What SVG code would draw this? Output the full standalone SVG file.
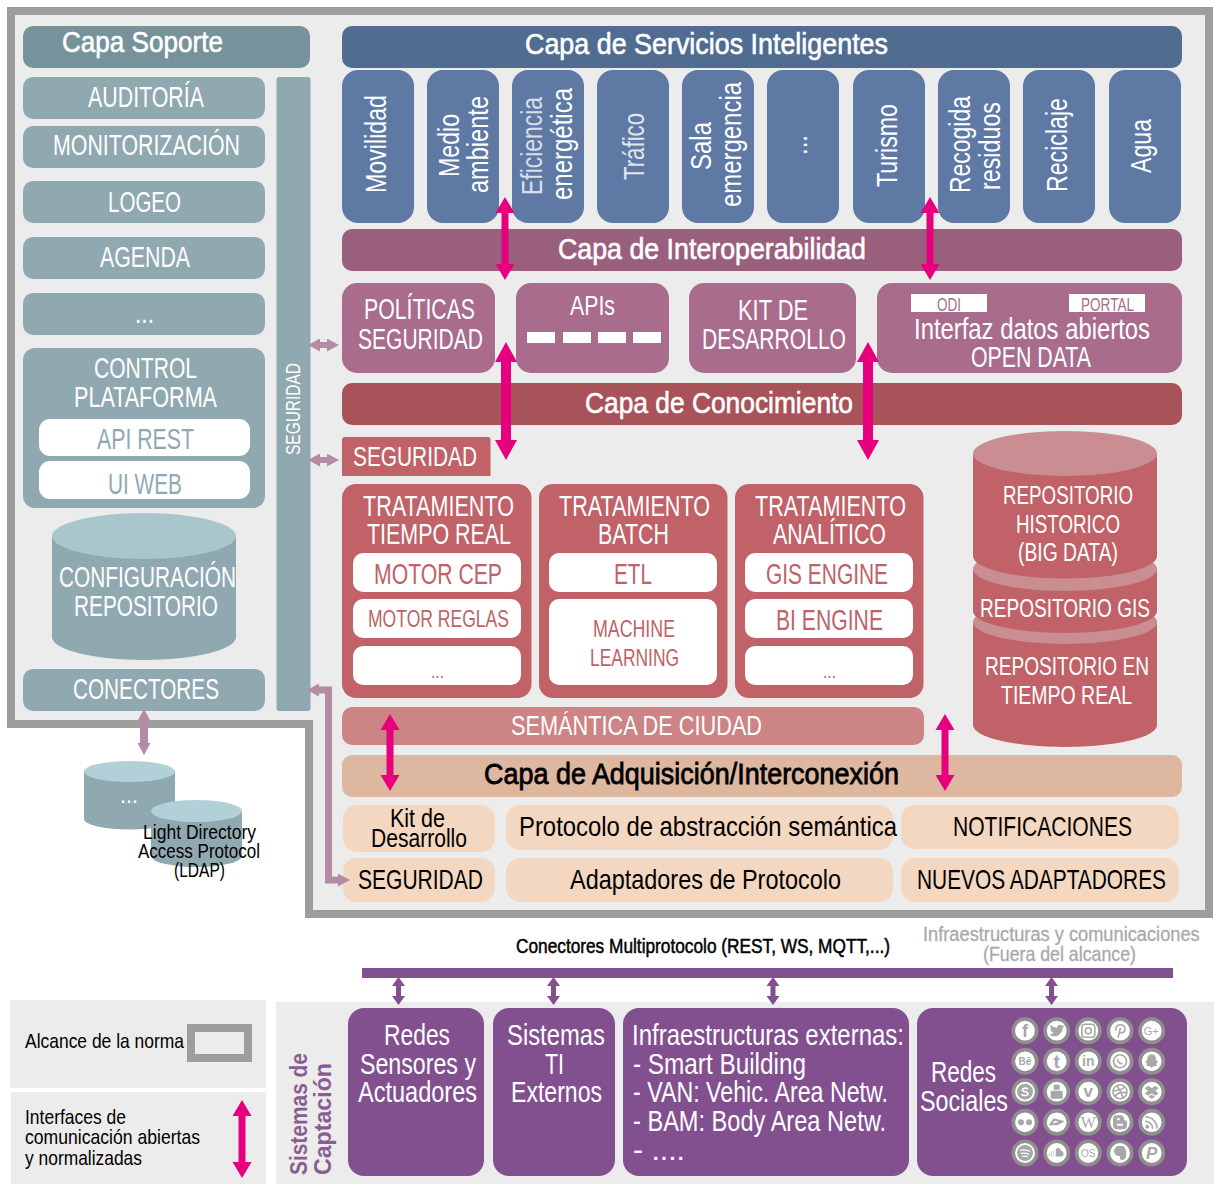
<svg xmlns="http://www.w3.org/2000/svg" width="1214" height="1184" viewBox="0 0 1214 1184">
<style>
text{font-family:"Liberation Sans",Arial,sans-serif;white-space:pre}
.w{fill:#fff}.k{fill:#000}
.s29{font-size:29px}.s28{font-size:28px}.s26{font-size:26px}.s24{font-size:24px}.s21{font-size:21px}.s20{font-size:20px}.s18{font-size:18px}
.hd{font-size:30px;stroke-width:.6px}
.hw{stroke:#fff}.hk{stroke:#000;stroke-width:.8px}
.sup{fill:#90a9b0}.supd{fill:#76929a}.top{fill:#b2d0d7}
.blue{fill:#5d79a4}.mau{fill:#a96c8c}.red{fill:#c06267}.pea{fill:#f4d7c1}.pur{fill:#83508f}.pan{fill:#ececec}
.rl{fill:#c06267}.wh{fill:#fff}.rt{fill:#c98d92}
.ring{fill:#fff;stroke:#8f8f8f;stroke-width:3.6px}
.g{fill:#a8a8a8}.gl{fill:none;stroke:#a8a8a8;stroke-width:1.6px}
.ic{fill:#a8a8a8;font-weight:bold;text-anchor:middle}
.in{font-weight:normal}
.lp{stroke:#e6007e;fill:none}.lm{stroke:#b58aa5;fill:none}.lv{stroke:#83508f;fill:none}
</style>
<defs>
<marker id="ps" markerUnits="userSpaceOnUse" markerWidth="16" markerHeight="20" refX="1" refY="10" orient="auto-start-reverse"><path d="M0 .5L16 10L0 19.5Z" fill="#e6007e"/></marker>
<marker id="pl" markerUnits="userSpaceOnUse" markerWidth="20" markerHeight="23" refX="1" refY="11.5" orient="auto-start-reverse"><path d="M0 .5L20 11.5L0 22.5Z" fill="#e6007e"/></marker>
<marker id="ms" markerUnits="userSpaceOnUse" markerWidth="12" markerHeight="13" refX="1" refY="6.5" orient="auto-start-reverse"><path d="M0 0L12 6.5L0 13Z" fill="#b58aa5"/></marker>
<marker id="vs" markerUnits="userSpaceOnUse" markerWidth="9" markerHeight="13" refX="1" refY="6.5" orient="auto-start-reverse"><path d="M0 0L9 6.5L0 13Z" fill="#83508f"/></marker>
</defs>

<g id="scope"><path d="M11 11H1209V914H309V724H11Z" fill="#ececec" stroke="#9d9d9c" stroke-width="8"/></g>

<g id="capa-soporte"><rect x="23" y="26" width="287" height="42" rx="10" class="supd"/><text x="62" y="52" textLength="161" lengthAdjust="spacingAndGlyphs" class="hd hw w">Capa Soporte</text></g>
<g id="auditoria"><rect x="23" y="77" width="242" height="42" rx="10" class="sup"/><text x="88" y="107" textLength="116" lengthAdjust="spacingAndGlyphs" class="s29 w">AUDITORÍA</text></g>
<g id="monitorizacion"><rect x="23" y="126" width="242" height="42" rx="10" class="sup"/><text x="53" y="155" textLength="187" lengthAdjust="spacingAndGlyphs" class="s29 w">MONITORIZACIÓN</text></g>
<g id="logeo"><rect x="23" y="181" width="242" height="42" rx="10" class="sup"/><text x="108" y="212" textLength="73" lengthAdjust="spacingAndGlyphs" class="s29 w">LOGEO</text></g>
<g id="agenda"><rect x="23" y="237" width="242" height="42" rx="10" class="sup"/><text x="100" y="267" textLength="90" lengthAdjust="spacingAndGlyphs" class="s29 w">AGENDA</text></g>
<g id="soporte-mas"><rect x="23" y="293" width="242" height="42" rx="10" class="sup"/><text x="135" y="323" textLength="19" lengthAdjust="spacingAndGlyphs" class="s29 w">...</text></g>
<g id="control"><rect x="23" y="348" width="242" height="160" rx="12" class="sup"/><text x="94" y="378" textLength="103" lengthAdjust="spacingAndGlyphs" class="s29 w">CONTROL</text><text x="74" y="407" textLength="143" lengthAdjust="spacingAndGlyphs" class="s29 w">PLATAFORMA</text>
<rect x="39" y="419" width="211" height="37" rx="11" class="wh"/><text x="97" y="449" textLength="97" lengthAdjust="spacingAndGlyphs" class="s29 sup">API REST</text>
<rect x="39" y="461" width="211" height="38" rx="11" class="wh"/><text x="108" y="494" textLength="74" lengthAdjust="spacingAndGlyphs" class="s29 sup">UI WEB</text></g>
<g id="configuracion"><path d="M52 536V637A92 23 0 0 0 236 637V536Z" class="sup"/><ellipse cx="144" cy="536" rx="92" ry="23" fill="#a9c6cd"/><text x="59" y="587" textLength="177" lengthAdjust="spacingAndGlyphs" class="s29 w">CONFIGURACIÓN</text><text x="74" y="616" textLength="144" lengthAdjust="spacingAndGlyphs" class="s29 w">REPOSITORIO</text></g>
<g id="conectores"><rect x="23" y="669" width="242" height="42" rx="10" class="sup"/><text x="73" y="699" textLength="146" lengthAdjust="spacingAndGlyphs" class="s29 w">CONECTORES</text></g>
<g id="seguridad-v"><rect x="276.500" y="77" width="34" height="634" rx="3" class="sup"/><text transform="translate(300 455) rotate(-90)" textLength="92" lengthAdjust="spacingAndGlyphs" class="s21 w">SEGURIDAD</text></g>

<g id="servicios"><rect x="342" y="26" width="840" height="42" rx="10" fill="#516c91"/><text x="525" y="54" textLength="363" lengthAdjust="spacingAndGlyphs" class="hd hw w">Capa de Servicios Inteligentes</text></g>
<g id="movilidad"><rect x="342" y="70" width="72" height="153" rx="16" class="blue"/><text transform="translate(386 193) rotate(-90)" textLength="98" lengthAdjust="spacingAndGlyphs" class="s29 w">Movilidad</text></g>
<g id="medio"><rect x="427" y="70" width="72" height="153" rx="16" class="blue"/><text transform="translate(459 177) rotate(-90)" textLength="63" lengthAdjust="spacingAndGlyphs" class="s29 w">Medio</text><text transform="translate(488 193) rotate(-90)" textLength="97" lengthAdjust="spacingAndGlyphs" class="s29 w">ambiente</text></g>
<g id="eficiencia"><rect x="512" y="70" width="72" height="153" rx="16" class="blue"/><text transform="translate(542 195) rotate(-90)" textLength="98" lengthAdjust="spacingAndGlyphs" class="s29" fill="#d8dfe9">Eficiencia</text><text transform="translate(572 200) rotate(-90)" textLength="112" lengthAdjust="spacingAndGlyphs" class="s29 w">energética</text></g>
<g id="trafico"><rect x="597" y="70" width="72" height="153" rx="16" class="blue"/><text transform="translate(644 180) rotate(-90)" textLength="67" lengthAdjust="spacingAndGlyphs" class="s29" fill="#e0e5ed">Tráfico</text></g>
<g id="sala"><rect x="682" y="70" width="72" height="153" rx="16" class="blue"/><text transform="translate(711 170) rotate(-90)" textLength="48" lengthAdjust="spacingAndGlyphs" class="s29 w">Sala</text><text transform="translate(741 207) rotate(-90)" textLength="125" lengthAdjust="spacingAndGlyphs" class="s29 w">emergencia</text></g>
<g id="serv-mas"><rect x="767" y="70" width="72" height="153" rx="16" class="blue"/><text transform="translate(807 155) rotate(-90)" textLength="20" lengthAdjust="spacingAndGlyphs" class="s29 w">...</text></g>
<g id="turismo"><rect x="853" y="70" width="72" height="153" rx="16" class="blue"/><text transform="translate(897 187) rotate(-90)" textLength="83" lengthAdjust="spacingAndGlyphs" class="s29 w">Turismo</text></g>
<g id="recogida"><rect x="938" y="70" width="72" height="153" rx="16" class="blue"/><text transform="translate(970 193) rotate(-90)" textLength="97" lengthAdjust="spacingAndGlyphs" class="s29 w">Recogida</text><text transform="translate(1000 190) rotate(-90)" textLength="88" lengthAdjust="spacingAndGlyphs" class="s29 w">residuos</text></g>
<g id="reciclaje"><rect x="1023" y="70" width="72" height="153" rx="16" class="blue"/><text transform="translate(1067 192) rotate(-90)" textLength="94" lengthAdjust="spacingAndGlyphs" class="s29 w">Reciclaje</text></g>
<g id="agua"><rect x="1109" y="70" width="72" height="153" rx="16" class="blue"/><text transform="translate(1151 173) rotate(-90)" textLength="54" lengthAdjust="spacingAndGlyphs" class="s29 w">Agua</text></g>

<g id="interoperabilidad"><rect x="342" y="229" width="840" height="42" rx="10" fill="#9a5f7d"/><text x="558" y="259" textLength="308" lengthAdjust="spacingAndGlyphs" class="hd hw w">Capa de Interoperabilidad</text></g>
<g id="politicas"><rect x="342" y="283" width="153" height="90" rx="15" class="mau"/><text x="364" y="319" textLength="111" lengthAdjust="spacingAndGlyphs" class="s29 w">POLÍTICAS</text><text x="358" y="349" textLength="125" lengthAdjust="spacingAndGlyphs" class="s29 w">SEGURIDAD</text></g>
<g id="apis"><rect x="516" y="283" width="153" height="90" rx="15" class="mau"/><text x="570" y="315" textLength="45" lengthAdjust="spacingAndGlyphs" class="s28 w">APIs</text><rect x="527" y="332" width="28" height="11" class="wh"/><rect x="563" y="332" width="28" height="11" class="wh"/><rect x="598" y="332" width="28" height="11" class="wh"/><rect x="633" y="332" width="28" height="11" class="wh"/></g>
<g id="kit"><rect x="689" y="283" width="167" height="90" rx="15" class="mau"/><text x="738" y="320" textLength="70" lengthAdjust="spacingAndGlyphs" class="s29 w">KIT DE</text><text x="702" y="349" textLength="144" lengthAdjust="spacingAndGlyphs" class="s29 w">DESARROLLO</text></g>
<g id="opendata"><rect x="877" y="283" width="305" height="90" rx="15" class="mau"/><rect x="911" y="294" width="76" height="18" class="wh"/><text x="937" y="311" textLength="24" lengthAdjust="spacingAndGlyphs" class="s18 mau">ODI</text><rect x="1069" y="294" width="76" height="18" class="wh"/><text x="1081" y="311" textLength="53" lengthAdjust="spacingAndGlyphs" class="s18 mau">PORTAL</text><text x="914" y="339" textLength="236" lengthAdjust="spacingAndGlyphs" class="s29 w">Interfaz datos abiertos</text><text x="971" y="367" textLength="120" lengthAdjust="spacingAndGlyphs" class="s29 w">OPEN DATA</text></g>

<g id="conocimiento"><rect x="342" y="383" width="840" height="42" rx="10" fill="#a85259"/><text x="585" y="413" textLength="268" lengthAdjust="spacingAndGlyphs" class="hd hw w">Capa de Conocimiento</text></g>
<g id="seguridad-c"><path d="M345 437H488Q490.500 437 490.500 440V476H342V440Q342 437 345 437Z" class="rl"/><text x="353" y="466" textLength="124" lengthAdjust="spacingAndGlyphs" class="s28 w">SEGURIDAD</text></g>

<g id="tiempo-real"><rect x="342" y="484" width="189.500" height="214" rx="14" class="red"/><text x="363" y="516" textLength="151" lengthAdjust="spacingAndGlyphs" class="s29 w">TRATAMIENTO</text><text x="367" y="544" textLength="144" lengthAdjust="spacingAndGlyphs" class="s29 w">TIEMPO REAL</text>
<rect x="353" y="553" width="168" height="39" rx="10" class="wh"/><text x="374" y="584" textLength="128" lengthAdjust="spacingAndGlyphs" class="s29 red">MOTOR CEP</text>
<rect x="353" y="599" width="168" height="39" rx="10" class="wh"/><text x="368" y="627" textLength="141" lengthAdjust="spacingAndGlyphs" class="s24 red">MOTOR REGLAS</text>
<rect x="353" y="646" width="168" height="39" rx="10" class="wh"/><text x="431" y="678" textLength="13" lengthAdjust="spacingAndGlyphs" class="s20 red">...</text></g>
<g id="batch"><rect x="539" y="484" width="188.500" height="214" rx="14" class="red"/><text x="559" y="516" textLength="151" lengthAdjust="spacingAndGlyphs" class="s29 w">TRATAMIENTO</text><text x="598" y="544" textLength="71" lengthAdjust="spacingAndGlyphs" class="s29 w">BATCH</text>
<rect x="549" y="553" width="168" height="39" rx="10" class="wh"/><text x="614" y="584" textLength="38" lengthAdjust="spacingAndGlyphs" class="s29 red">ETL</text>
<rect x="549" y="599" width="168" height="86" rx="10" class="wh"/><text x="593" y="637" textLength="82" lengthAdjust="spacingAndGlyphs" class="s24 red">MACHINE</text><text x="590" y="666" textLength="89" lengthAdjust="spacingAndGlyphs" class="s24 red">LEARNING</text></g>
<g id="analitico"><rect x="735" y="484" width="188.500" height="214" rx="14" class="red"/><text x="755" y="516" textLength="151" lengthAdjust="spacingAndGlyphs" class="s29 w">TRATAMIENTO</text><text x="773" y="544" textLength="113" lengthAdjust="spacingAndGlyphs" class="s29 w">ANALÍTICO</text>
<rect x="745" y="553" width="168" height="39" rx="10" class="wh"/><text x="766" y="584" textLength="122" lengthAdjust="spacingAndGlyphs" class="s29 red">GIS ENGINE</text>
<rect x="745" y="599" width="168" height="39" rx="10" class="wh"/><text x="776" y="630" textLength="107" lengthAdjust="spacingAndGlyphs" class="s29 red">BI ENGINE</text>
<rect x="745" y="646" width="168" height="39" rx="10" class="wh"/><text x="823" y="678" textLength="13" lengthAdjust="spacingAndGlyphs" class="s20 red">...</text></g>

<g id="repo-tr"><path d="M973 622V725A92 22 0 0 0 1157 725V622Z" class="rl"/><ellipse cx="1065" cy="622" rx="92" ry="22" class="rt"/><text x="985" y="675" textLength="164" lengthAdjust="spacingAndGlyphs" class="s26 w">REPOSITORIO EN</text><text x="1001" y="704" textLength="131" lengthAdjust="spacingAndGlyphs" class="s26 w">TIEMPO REAL</text></g>
<g id="repo-gis"><path d="M973 569V611A92 22 0 0 0 1157 611V569Z" class="rl"/><ellipse cx="1065" cy="569" rx="92" ry="22" class="rt"/><text x="980" y="617" textLength="170" lengthAdjust="spacingAndGlyphs" class="s26 w">REPOSITORIO GIS</text></g>
<g id="repo-hist"><path d="M973 453.500V556A92 22.500 0 0 0 1157 556V453.500Z" class="rl"/><ellipse cx="1065" cy="453.500" rx="92" ry="22.500" class="rt"/><text x="1003" y="504" textLength="130" lengthAdjust="spacingAndGlyphs" class="s26 w">REPOSITORIO</text><text x="1016" y="533" textLength="104" lengthAdjust="spacingAndGlyphs" class="s26 w">HISTORICO</text><text x="1018" y="561" textLength="100" lengthAdjust="spacingAndGlyphs" class="s26 w">(BIG DATA)</text></g>

<g id="semantica"><rect x="342" y="707" width="582" height="38" rx="10" fill="#cc8484"/><text x="511" y="735" textLength="251" lengthAdjust="spacingAndGlyphs" class="s28 w">SEMÁNTICA DE CIUDAD</text></g>
<g id="adquisicion"><rect x="342" y="755" width="840" height="42" rx="10" fill="#ddb79f"/><text x="484" y="784" textLength="415" lengthAdjust="spacingAndGlyphs" class="hd hk k">Capa de Adquisición/Interconexión</text></g>
<g id="kit-des"><rect x="343" y="805" width="152" height="47" rx="14" class="pea"/><text x="390" y="827" textLength="55" lengthAdjust="spacingAndGlyphs" class="s26 k">Kit de</text><text x="371" y="847" textLength="96" lengthAdjust="spacingAndGlyphs" class="s26 k">Desarrollo</text></g>
<g id="seguridad-a"><rect x="343" y="858" width="152" height="44" rx="14" class="pea"/><text x="358" y="889" textLength="125" lengthAdjust="spacingAndGlyphs" class="s28 k">SEGURIDAD</text></g>
<g id="protocolo"><rect x="506" y="805" width="387" height="45" rx="14" class="pea"/><text x="519" y="836" textLength="378" lengthAdjust="spacingAndGlyphs" class="s28 k">Protocolo de abstracción semántica</text></g>
<g id="adaptadores"><rect x="506" y="858" width="387" height="44" rx="14" class="pea"/><text x="570" y="889" textLength="271" lengthAdjust="spacingAndGlyphs" class="s28 k">Adaptadores de Protocolo</text></g>
<g id="notificaciones"><rect x="901" y="805" width="278" height="44" rx="14" class="pea"/><text x="953" y="836" textLength="179" lengthAdjust="spacingAndGlyphs" class="s28 k">NOTIFICACIONES</text></g>
<g id="nuevos"><rect x="901" y="858" width="278" height="44" rx="14" class="pea"/><text transform="translate(917 889) scale(.746 1)" class="s28 k">NUEVOS ADAPTADORES</text></g>

<g id="bd-mas"><path d="M84 771.500V819A45.500 10.500 0 0 0 175 819V771.500Z" class="sup"/><ellipse cx="129.500" cy="771.500" rx="45.500" ry="10.500" class="top"/><text x="120" y="803" textLength="18" lengthAdjust="spacingAndGlyphs" class="s24 w">...</text></g>
<g id="ldap"><path d="M151 811V856A45.500 11 0 0 0 242 856V811Z" class="sup"/><ellipse cx="196.500" cy="811" rx="45.500" ry="11" class="top"/><text x="143" y="839" textLength="113" lengthAdjust="spacingAndGlyphs" class="s20 k">Light Directory</text><text x="138" y="858" textLength="122" lengthAdjust="spacingAndGlyphs" class="s20 k">Access Protocol</text><text x="174" y="877" textLength="51" lengthAdjust="spacingAndGlyphs" class="s20 k">(LDAP)</text></g>

<g id="multiprotocolo"><rect x="362" y="968" width="811" height="10" class="pur"/><text x="516" y="953" textLength="374" lengthAdjust="spacingAndGlyphs" class="s20 k" stroke="#000" stroke-width=".5">Conectores Multiprotocolo (REST, WS, MQTT,...)</text></g>
<g id="fuera"><text transform="translate(923 941) scale(.869 1)" class="s21" fill="#a9a9a9" stroke="#a9a9a9" stroke-width=".3">Infraestructuras y comunicaciones</text><text x="983" y="961" textLength="153" lengthAdjust="spacingAndGlyphs" class="s21" fill="#a9a9a9" stroke="#a9a9a9" stroke-width=".3">(Fuera del alcance)</text></g>

<g id="leyenda-alcance"><rect x="10" y="1000" width="256" height="88" class="pan"/><text x="25" y="1048" textLength="159" lengthAdjust="spacingAndGlyphs" class="s21 k">Alcance de la norma</text><rect x="191" y="1028" width="57" height="30" fill="#ececec" stroke="#9d9d9c" stroke-width="8"/></g>
<g id="leyenda-interfaces"><rect x="11" y="1092" width="255" height="92" class="pan"/><text x="25" y="1124" textLength="101" lengthAdjust="spacingAndGlyphs" class="s21 k">Interfaces de</text><text x="25" y="1144" textLength="175" lengthAdjust="spacingAndGlyphs" class="s21 k">comunicación abiertas</text><text x="25" y="1165" textLength="117" lengthAdjust="spacingAndGlyphs" class="s21 k">y normalizadas</text></g>

<g id="captacion"><rect x="276" y="1002" width="938" height="182" class="pan"/><text transform="translate(307 1175) rotate(-90)" textLength="122" lengthAdjust="spacingAndGlyphs" font-size="23" font-weight="bold" fill="#8a5c94">Sistemas de</text><text transform="translate(331 1175) rotate(-90)" textLength="112" lengthAdjust="spacingAndGlyphs" font-size="23" font-weight="bold" fill="#8a5c94">Captación</text></g>
<g id="redes-sensores"><rect x="348" y="1008" width="136" height="168" rx="16" class="pur"/><text x="384" y="1045" textLength="66" lengthAdjust="spacingAndGlyphs" class="s29 w">Redes</text><text x="360" y="1074" textLength="116" lengthAdjust="spacingAndGlyphs" class="s29 w">Sensores y</text><text x="358" y="1102" textLength="119" lengthAdjust="spacingAndGlyphs" class="s29 w">Actuadores</text></g>
<g id="sistemas-ti"><rect x="493" y="1008" width="122" height="168" rx="16" class="pur"/><text x="507" y="1045" textLength="98" lengthAdjust="spacingAndGlyphs" class="s29 w">Sistemas</text><text x="545" y="1074" textLength="19" lengthAdjust="spacingAndGlyphs" class="s29 w">TI</text><text x="511" y="1102" textLength="91" lengthAdjust="spacingAndGlyphs" class="s29 w">Externos</text></g>
<g id="infra"><rect x="623" y="1008" width="286" height="168" rx="16" class="pur"/><text x="632" y="1045" textLength="272" lengthAdjust="spacingAndGlyphs" class="s29 w">Infraestructuras externas:</text><text x="633" y="1074" textLength="173" lengthAdjust="spacingAndGlyphs" class="s29 w">- Smart Building</text><text x="633" y="1102" textLength="255" lengthAdjust="spacingAndGlyphs" class="s29 w">- VAN: Vehic. Area Netw.</text><text x="633" y="1131" textLength="253" lengthAdjust="spacingAndGlyphs" class="s29 w">- BAM: Body Area Netw.</text><text x="633" y="1160" textLength="52" lengthAdjust="spacingAndGlyphs" class="s29 w">- ....</text></g>
<g id="redes-sociales"><rect x="917" y="1008" width="270" height="168" rx="16" class="pur"/><text x="931" y="1082" textLength="65" lengthAdjust="spacingAndGlyphs" class="s29 w">Redes</text><text x="920" y="1111" textLength="88" lengthAdjust="spacingAndGlyphs" class="s29 w">Sociales</text>
<g id="iconos">
<g transform="translate(1025 1030.700)"><circle r="11.700" class="ring"/><text y="6.500" font-size="18" class="ic">f</text></g>
<g transform="translate(1056.700 1030.700)"><circle r="11.700" class="ring"/><path d="M-7 4C-3 7 5 6 6 -3L8 -5L5.500 -5C4 -7 0 -6 0.500 -3C-2 -3 -4 -4 -6 -6C-7 -4 -6 -2 -5 -1L-6.500 -1.500C-6 0 -5 1.500 -3 2C-4 3 -5.500 3.500 -7 4Z" class="g"/></g>
<g transform="translate(1088.300 1030.700)"><circle r="11.700" class="ring"/><rect x="-6.500" y="-6.500" width="13" height="13" rx="3" class="gl"/><circle r="3" class="gl"/></g>
<g transform="translate(1120 1030.700)"><circle r="11.700" class="ring"/><path d="M-2 7L0.500 -3M-4 0C-6 -7 5 -8 5 -2C5 3 0 3 -1 1" class="gl"/></g>
<g transform="translate(1151.700 1030.700)"><circle r="11.700" class="ring"/><text x="-.500" y="4" font-size="11" class="ic in">G+</text></g>
<g transform="translate(1025 1061.300)"><circle r="11.700" class="ring"/><text y="3.500" font-size="10" class="ic">Bē</text></g>
<g transform="translate(1056.700 1061.300)"><circle r="11.700" class="ring"/><text y="6.500" font-size="19" class="ic">t</text></g>
<g transform="translate(1088.300 1061.300)"><circle r="11.700" class="ring"/><text y="5" font-size="14" class="ic">in</text></g>
<g transform="translate(1120 1061.300)"><circle r="11.700" class="ring"/><circle r="6.500" class="gl"/><path d="M-6 6.500L-5 3L-3 5Z" class="g"/><path d="M-2.500 -2.500C-2 1 0 2.500 2.500 2.500" class="gl"/></g>
<g transform="translate(1151.700 1061.300)"><circle r="11.700" class="ring"/><path d="M0 -7C4 -7 4.500 -3 4.500 -1L6.500 1L4.500 2.500L5.500 4.500L2 5L0 6.500L-2 5L-5.500 4.500L-4.500 2.500L-6.500 1L-4.500 -1C-4.500 -3 -4 -7 0 -7Z" class="g"/></g>
<g transform="translate(1025 1091.700)"><circle r="11.700" class="ring"/><circle r="8" class="g"/><path d="M3 -2.500C1 -4.500 -3 -3.500 -2.500 -1.500C-2 .5 3 -.5 3 2C3 4 -2 4.500 -3.500 2.500" fill="none" stroke="#fff" stroke-width="1.600"/></g>
<g transform="translate(1056.700 1091.700)"><circle r="11.700" class="ring"/><rect x="-6" y="-1" width="12" height="8" rx="1.500" class="g"/><rect x="-3" y="-7" width="6" height="5" class="g"/></g>
<g transform="translate(1088.300 1091.700)"><circle r="11.700" class="ring"/><text y="5.500" font-size="17" class="ic">v</text></g>
<g transform="translate(1120 1091.700)"><circle r="11.700" class="ring"/><circle r="7" class="gl"/><path d="M-3 -6C0 -2 2 2 3 6M-7 -1C-2 -1 2 -2 5 -5M-5 5C-3 1 1 0 7 1" class="gl" stroke-width="1"/></g>
<g transform="translate(1151.700 1091.700)"><circle r="11.700" class="ring"/><path d="M-3.500 -6L0 -3.500L3.500 -6L7 -3.500L3.500 -1L7 1.500L3.500 4L0 1.500L-3.500 4L-7 1.500L-3.500 -1L-7 -3.500Z" class="g"/><path d="M-3.500 5L0 3L3.500 5L0 7Z" class="g"/></g>
<g transform="translate(1025 1122.300)"><circle r="11.700" class="ring"/><circle cx="-4" r="3" class="g"/><circle cx="4" r="3" class="g"/></g>
<g transform="translate(1056.700 1122.300)"><circle r="11.700" class="ring"/><path d="M-8 3L-3 -4L8 -1L1 3Z" class="g"/><path d="M-4 1.500L-2 -1.500L2 -.500Z" fill="#fff"/></g>
<g transform="translate(1088.300 1122.300)"><circle r="11.700" class="ring"/><text y="5.500" font-size="16" class="ic in" style="font-family:'Liberation Serif',serif">W</text></g>
<g transform="translate(1120 1122.300)"><circle r="11.700" class="ring"/><path d="M-7 -3Q-7 -7 -3 -7H1Q4 -7 4 -3V-2H5Q7 -2 7 0V3Q7 7 3 7H-3Q-7 7 -7 3Z" class="g"/><path d="M-3 -3H0M-3 2.500H3" stroke="#fff" stroke-width="2" fill="none"/></g>
<g transform="translate(1151.700 1122.300)"><circle r="11.700" class="ring"/><circle cx="-4.500" cy="4.500" r="2" class="g"/><path d="M-6.500 -1A7.500 7.500 0 0 1 1 6.500M-6.500 -5.500A12 12 0 0 1 5.500 6.500" class="gl" stroke-width="2"/></g>
<g transform="translate(1025 1153)"><circle r="11.700" class="ring"/><circle r="8" class="g"/><path d="M-5 -2.500Q0 -4 5 -1.500M-4 .5Q0 -.5 4 1.500M-3 3.500Q0 2.500 3 4" stroke="#fff" stroke-width="1.300" fill="none"/></g>
<g transform="translate(1056.700 1153)"><circle r="11.700" class="ring"/><path d="M-1 3.500V-3C0 -6 4 -5.500 4.500 -2C7 -3 8 3.500 5 3.500Z" class="g"/><path d="M-8 3.500V0H-7V3.500ZM-6 3.500V-2H-5V3.500ZM-4 3.500V-3H-3V3.500Z" fill="#cfcfcf"/></g>
<g transform="translate(1088.300 1153)"><circle r="11.700" class="ring"/><text y="3.500" font-size="10" class="ic in">OS</text></g>
<g transform="translate(1120 1153)"><circle r="11.700" class="ring"/><path d="M-6 -3L-3 -7H3C7 -5 7 3 5 6C2 8 -1 7 0 3C-4 3 -6 1 -6 -3Z" class="g"/></g>
<g transform="translate(1151.700 1153)"><circle r="11.700" class="ring"/><text x="0" y="6" font-size="17" font-style="italic" class="ic">P</text></g>
</g></g>

<g id="connectors">
<line x1="505" y1="212" x2="505" y2="265" class="lp" stroke-width="7" marker-start="url(#ps)" marker-end="url(#ps)"/>
<line x1="930" y1="212" x2="930" y2="265" class="lp" stroke-width="7" marker-start="url(#ps)" marker-end="url(#ps)"/>
<line x1="506" y1="361" x2="506" y2="441" class="lp" stroke-width="10" marker-start="url(#pl)" marker-end="url(#pl)"/>
<line x1="868" y1="361" x2="868" y2="441" class="lp" stroke-width="10" marker-start="url(#pl)" marker-end="url(#pl)"/>
<line x1="390" y1="729" x2="390" y2="776" class="lp" stroke-width="7" marker-start="url(#ps)" marker-end="url(#ps)"/>
<line x1="945" y1="729" x2="945" y2="776" class="lp" stroke-width="7" marker-start="url(#ps)" marker-end="url(#ps)"/>
<line x1="242" y1="1115" x2="242" y2="1163" class="lp" stroke-width="7" marker-start="url(#ps)" marker-end="url(#ps)"/>
<line x1="319" y1="345" x2="328" y2="345" class="lm" stroke-width="6" marker-start="url(#ms)" marker-end="url(#ms)"/>
<line x1="319" y1="460" x2="328" y2="460" class="lm" stroke-width="6" marker-start="url(#ms)" marker-end="url(#ms)"/>
<line x1="144" y1="720" x2="144" y2="744" class="lm" stroke-width="8" marker-start="url(#ms)" marker-end="url(#ms)"/>
<path d="M318 690H328.500V880H339" class="lm" stroke-width="7" marker-start="url(#ms)" marker-end="url(#ms)"/>
<line x1="398.500" y1="985" x2="398.500" y2="997" class="lv" stroke-width="5" marker-start="url(#vs)" marker-end="url(#vs)"/>
<line x1="553.500" y1="985" x2="553.500" y2="997" class="lv" stroke-width="5" marker-start="url(#vs)" marker-end="url(#vs)"/>
<line x1="773" y1="985" x2="773" y2="997" class="lv" stroke-width="5" marker-start="url(#vs)" marker-end="url(#vs)"/>
<line x1="1051.500" y1="985" x2="1051.500" y2="997" class="lv" stroke-width="5" marker-start="url(#vs)" marker-end="url(#vs)"/>
</g>
</svg>
